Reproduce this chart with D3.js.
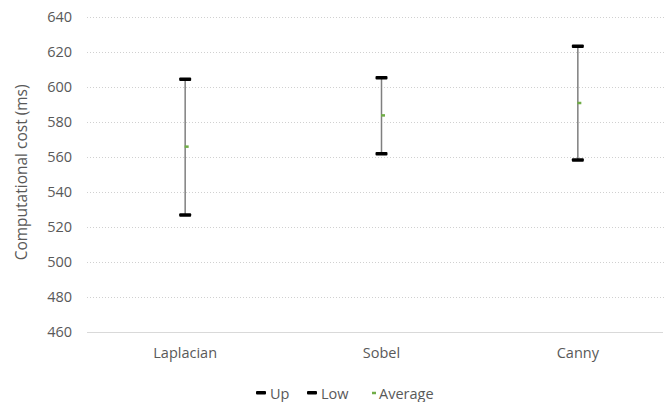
<!DOCTYPE html>
<html>
<head>
<meta charset="utf-8">
<script src="https://cdn.jsdelivr.net/npm/d3@7/dist/d3.min.js"></script>
<style>
  html, body { margin: 0; padding: 0; background: #fff; }
  svg { display: block; font-family: "Open Sans", "Noto Sans", sans-serif; }
</style>
</head>
<body>
<svg id="chart" width="664" height="402"></svg>
<script>
// Edge-detection methods and their computational cost range (ms)
const categories = ["Laplacian", "Sobel", "Canny"];
const upValues = [604.5, 605.4, 623.4];
const lowValues = [526.7, 561.8, 558.2];
const averageValues = [565.9, 583.8, 590.9];
const yTicks = [460, 480, 500, 520, 540, 560, 580, 600, 620, 640];
const legendLabels = ["Up", "Low", "Average"];

const svg = d3.select("#chart");
const W = 664, H = 402;
const plot = { left: 87, right: 676, top: 17.3, bottom: 331.5 };

const x = d3.scaleBand().domain(categories).range([plot.left, plot.right]);
const y = d3.scaleLinear().domain([460, 640]).range([plot.bottom, plot.top]);

const textColor = "#595959";

// Horizontal gridlines (dotted), baseline solid
const grid = svg.append("g");
grid.selectAll("line")
  .data(yTicks.filter(t => t !== 460))
  .join("line")
  .attr("x1", plot.left).attr("x2", W)
  .attr("y1", d => Math.round(y(d)) + 0.5).attr("y2", d => Math.round(y(d)) + 0.5)
  .attr("stroke", "#d0d0d0").attr("stroke-width", 1)
  .attr("stroke-dasharray", "1,2");
svg.append("line")
  .attr("x1", plot.left).attr("x2", W - 1)
  .attr("y1", Math.round(y(460)) + 0.5).attr("y2", Math.round(y(460)) + 0.5)
  .attr("stroke", "#d9d9d9").attr("stroke-width", 1);

// Y axis labels
const yAxis = d3.axisLeft(y).tickValues(yTicks).tickSize(0).tickPadding(0);
const yg = svg.append("g").attr("transform", `translate(72,0)`).call(yAxis);
yg.select(".domain").remove();
yg.selectAll("text").attr("fill", textColor).attr("font-size", 14.5)
  .attr("font-family", "\"Open Sans\", sans-serif");

// X axis labels
const xAxis = d3.axisBottom(x).tickSize(0).tickPadding(0);
const xg = svg.append("g").attr("transform", `translate(0,${plot.bottom + 16})`).call(xAxis);
xg.select(".domain").remove();
xg.selectAll("text").attr("fill", textColor).attr("font-size", 14.5)
  .attr("font-family", "\"Open Sans\", sans-serif");

// Y axis title
svg.append("text")
  .attr("transform", `translate(27,${(plot.top + plot.bottom) / 2 - 2}) rotate(-90)`)
  .attr("text-anchor", "middle")
  .attr("fill", textColor).attr("font-size", 15.5)
  .text("Computational cost (ms)");

// Range whiskers
const cx = c => x(c) + x.bandwidth() / 2;
const marks = svg.append("g");
marks.selectAll("line.whisker")
  .data(categories)
  .join("line")
  .attr("class", "whisker")
  .attr("x1", cx).attr("x2", cx)
  .attr("y1", (d, i) => y(upValues[i]))
  .attr("y2", (d, i) => y(lowValues[i]))
  .attr("stroke", "#7f7f7f").attr("stroke-width", 1.5);

// Up and Low caps
const capW = 12, capH = 3.5;
[upValues, lowValues].forEach(vals => {
  marks.append("g").selectAll("rect")
    .data(categories)
    .join("rect")
    .attr("x", d => cx(d) - capW / 2)
    .attr("y", (d, i) => y(vals[i]) - capH / 2)
    .attr("width", capW).attr("height", capH)
    .attr("rx", 1)
    .attr("fill", "#000");
});

// Average markers
marks.append("g").selectAll("rect")
  .data(categories)
  .join("rect")
  .attr("x", d => cx(d) - 0.5)
  .attr("y", (d, i) => y(averageValues[i]) - 1.25)
  .attr("width", 4).attr("height", 2.5)
  .attr("fill", "#70ad47");

// Legend
const legend = svg.append("g").attr("transform", "translate(0,393)");
const legendX = [256, 307, 372];
legendLabels.forEach((lab, i) => {
  const g = legend.append("g").attr("transform", `translate(${legendX[i]},0)`);
  if (i < 2) {
    g.append("rect").attr("x", 0).attr("y", -2).attr("width", 10).attr("height", 3.5)
      .attr("rx", 1).attr("fill", "#000");
    g.append("text").attr("x", 14).attr("y", 5.5).attr("fill", textColor)
      .attr("font-size", 14.5).text(lab);
  } else {
    g.append("rect").attr("x", 0).attr("y", -1.25).attr("width", 4).attr("height", 2.5)
      .attr("fill", "#70ad47");
    g.append("text").attr("x", 7).attr("y", 5.5).attr("fill", textColor)
      .attr("font-size", 14.5).text(lab);
  }
});
</script>
</body>
</html>
